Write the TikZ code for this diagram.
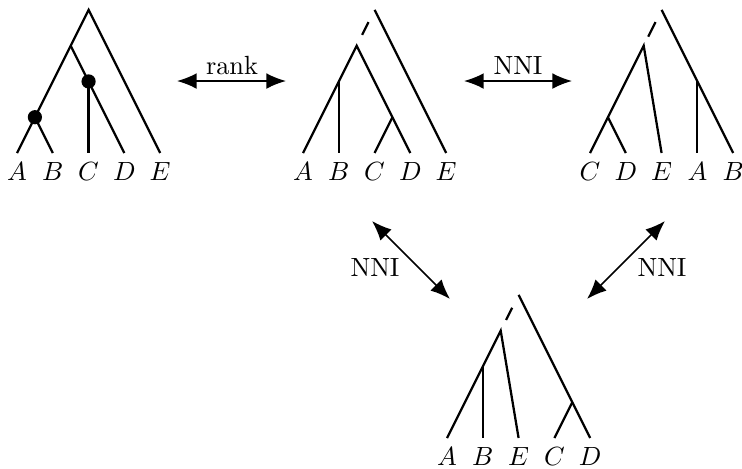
\documentclass[tikz,border=0pt]{standalone}
\usetikzlibrary{arrows.meta,calc}
\begin{document}
\begin{tikzpicture}[x=0.38pt,y=-0.38pt,
  edge/.style={line width=0.85pt},
  leaf/.style={anchor=north,inner sep=3.3pt},
  dot/.style={circle,fill=black,inner sep=0pt,minimum size=5.4pt},
  link/.style={line width=0.6pt,{Latex[length=7.5pt,width=6pt]}-{Latex[length=7.5pt,width=6pt]}},
  tree/.style={x=13.6pt,y=13.6pt}]
\useasboundingbox (0,0) rectangle (742,468);
% ---------- tree 1 ----------
\begin{scope}[shift={(17,153)},tree]
  \coordinate (aA) at (0,0); \coordinate (aB) at (1,0); \coordinate (aC) at (2,0);
  \coordinate (aD) at (3,0); \coordinate (aE) at (4,0);
  \coordinate (ar) at (2,4); \coordinate (au) at (1.5,3);
  \coordinate (aab) at (0.5,1); \coordinate (acd) at (2,2);
  \draw[edge] (aA) -- (ar) -- (aE);
  \draw[edge] (au) -- (aD);
  \draw[edge] (aab) -- (aB);
  \draw[edge] (acd) -- (aC);
  \node[dot] (dab) at (aab) {};
  \node[dot] (dcd) at (acd) {};
  \foreach \n/\t in {aA/A,aB/B,aC/C,aD/D,aE/E} \node[leaf] (l\n) at (\n) {$\t$};
\end{scope}
% ---------- tree 2 ----------
\begin{scope}[shift={(303,153)},tree]
  \coordinate (bA) at (0,0); \coordinate (bB) at (1,0); \coordinate (bC) at (2,0);
  \coordinate (bD) at (3,0); \coordinate (bE) at (4,0);
  \coordinate (br) at (2,4); \coordinate (bu) at (1.5,3);
  \coordinate (bab) at (1,2); \coordinate (bcd) at (2.5,1);
  \draw[edge] (br) -- (bE);
  \draw[edge] ($(bu)!0.3!(br)$) -- ($(bu)!0.66!(br)$);
  \draw[edge] (bA) -- (bu) -- (bD);
  \draw[edge] (bab) -- (bB);
  \draw[edge] (bcd) -- (bC);
  \foreach \n/\t in {bA/A,bB/B,bC/C,bD/D,bE/E} \node[leaf] (l\n) at (\n) {$\t$};
\end{scope}
% ---------- tree 3 ----------
\begin{scope}[shift={(590,153)},tree]
  \coordinate (cC) at (0,0); \coordinate (cD) at (1,0); \coordinate (cE) at (2,0);
  \coordinate (cA) at (3,0); \coordinate (cB) at (4,0);
  \coordinate (cr) at (2,4); \coordinate (cu) at (1.5,3);
  \coordinate (ccd) at (0.5,1); \coordinate (cab) at (3,2);
  \draw[edge] (cr) -- (cB);
  \draw[edge] ($(cu)!0.25!(cr)$) -- ($(cu)!0.66!(cr)$);
  \draw[edge] (cC) -- (cu) -- (cE);
  \draw[edge] (ccd) -- (cD);
  \draw[edge] (cab) -- (cA);
  \foreach \n/\t in {cC/C,cD/D,cE/E,cA/A,cB/B} \node[leaf] (l\n) at (\n) {$\t$};
\end{scope}
% ---------- tree 4 ----------
\begin{scope}[shift={(447,438)},tree]
  \coordinate (dA) at (0,0); \coordinate (dB) at (1,0); \coordinate (dE) at (2,0);
  \coordinate (dC) at (3,0); \coordinate (dD) at (4,0);
  \coordinate (dr) at (2,4); \coordinate (du) at (1.5,3);
  \coordinate (dab) at (1,2); \coordinate (dcd) at (3.5,1);
  \draw[edge] (dr) -- (dD);
  \draw[edge] ($(du)!0.3!(dr)$) -- ($(du)!0.64!(dr)$);
  \draw[edge] (dA) -- (du) -- (dE);
  \draw[edge] (dab) -- (dB);
  \draw[edge] (dcd) -- (dC);
  \foreach \n/\t in {dA/A,dB/B,dE/E,dC/C,dD/D} \node[leaf] (l\n) at (\n) {$\t$};
\end{scope}
% ---------- arrows ----------
\coordinate (r1) at (177,81); \coordinate (r2) at (286,81);
\coordinate (n1) at (464,81); \coordinate (n2) at (572,81);
\coordinate (m1) at (372,221); \coordinate (m2) at (450,299);
\coordinate (k1) at (665,221); \coordinate (k2) at (587,299);
\draw[link] (r1) -- (r2);
\draw[link] (n1) -- (n2);
\draw[link] (m1) -- (m2);
\draw[link] (k1) -- (k2);
\node (trank) at (232,66) {rank};
\node (tnni1) at (518,66) {NNI};
\node (tnni2) at (375,268) {NNI};
\node (tnni3) at (662,268) {NNI};
\end{tikzpicture}
\end{document}
